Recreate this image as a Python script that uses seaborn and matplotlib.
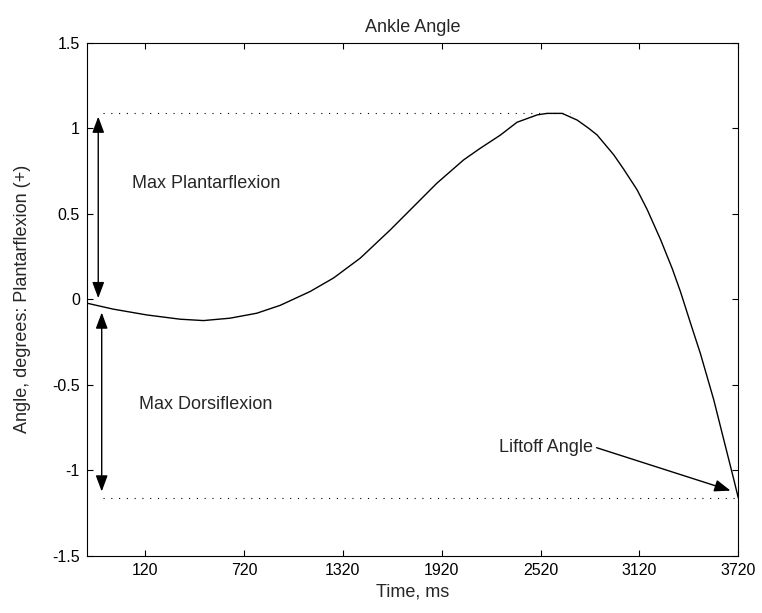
import matplotlib
matplotlib.use("Agg")
import matplotlib.pyplot as plt
import seaborn as sns
import pandas as pd

# ankle angle trace
time_ms = [-234, -74, 130, 333, 474, 636, 798, 940, 1122, 1264, 1426, 1608,
           1749, 1891, 1972, 2053, 2154, 2276, 2377, 2499, 2560, 2651, 2742,
           2812, 2863, 2964, 3025, 3106, 3167, 3248, 3319, 3369, 3430, 3491,
           3571, 3632, 3693, 3720]
angle_deg = [-0.022, -0.057, -0.091, -0.116, -0.124, -0.110, -0.081, -0.035,
             0.046, 0.125, 0.241, 0.406, 0.542, 0.679, 0.747, 0.815, 0.883,
             0.960, 1.035, 1.078, 1.087, 1.087, 1.048, 1.000, 0.961, 0.845,
             0.760, 0.640, 0.525, 0.350, 0.180, 0.045, -0.139, -0.320, -0.587,
             -0.821, -1.054, -1.161]

x_ticks = [120, 720, 1320, 1920, 2520, 3120, 3720]
y_ticks = [-1.5, -1, -0.5, 0, 0.5, 1, 1.5]
y_tick_labels = ["-1.5", "-1", "-0.5", "0", "0.5", "1", "1.5"]

# annotation extents
plantar_arrow = (-164, 0.007, 1.068)
dorsi_arrow = (-143, -0.077, -1.123)
ref_line_start = -135
peak_line_end = 2701

df = pd.DataFrame({"time": time_ms, "angle": angle_deg})

sns.set_style("ticks")
plt.rcParams["font.family"] = ["Liberation Sans", "DejaVu Sans"]

fig = plt.figure(figsize=(7.62, 6.13), dpi=100)
ax = fig.add_axes([0.1138, 0.0930, 0.8551, 0.8373])

sns.lineplot(data=df, x="time", y="angle", color="black", linewidth=1.0, ax=ax)

peak = max(angle_deg)
liftoff = angle_deg[-1]
ax.plot([ref_line_start, peak_line_end], [peak, peak], color="black",
        linewidth=0.8, linestyle=(0, (1, 6)))
ax.plot([ref_line_start, time_ms[-1]], [liftoff, liftoff], color="black",
        linewidth=0.8, linestyle=(0, (1, 6)))

# double headed arrows
for x, y0, y1 in [plantar_arrow, dorsi_arrow]:
    ax.annotate("", xy=(x, y1), xytext=(x, y0),
                arrowprops=dict(arrowstyle="<|-|>,head_length=0.75,head_width=0.28",
                                color="black", lw=1.0, shrinkA=0, shrinkB=0),
                fontsize=13)

ax.text(41, 0.68, "Max Plantarflexion", fontsize=13, va="center", ha="left")
ax.text(84, -0.616, "Max Dorsiflexion", fontsize=13, va="center", ha="left")
ax.text(2270, -0.867, "Liftoff Angle", fontsize=13, va="center", ha="left")
ax.annotate("", xy=(3673, -1.118), xytext=(2860, -0.867),
            arrowprops=dict(arrowstyle="-|>,head_length=0.75,head_width=0.28",
                            color="black", lw=1.0, shrinkA=0, shrinkB=0),
            fontsize=13)

ax.set_xlim(time_ms[0], time_ms[-1])
ax.set_ylim(-1.5, 1.5)
ax.set_xticks(x_ticks)
ax.set_xticklabels([str(t) for t in x_ticks])
ax.set_yticks(y_ticks)
ax.set_yticklabels(y_tick_labels)

for s in ax.spines.values():
    s.set_visible(True)
    s.set_linewidth(0.8)
    s.set_color("black")
ax.tick_params(direction="in", length=4.5, width=0.8, top=True, right=True,
               labelsize=11.5, colors="black", pad=5)

ax.set_title("Ankle Angle", fontsize=13, pad=8)
ax.set_xlabel("Time, ms", fontsize=13, labelpad=4)
ax.set_ylabel("Angle, degrees: Plantarflexion (+)", fontsize=13)
ax.yaxis.set_label_coords(-0.085, 0.5)

fig.savefig("out.png", dpi=100, facecolor="white")
